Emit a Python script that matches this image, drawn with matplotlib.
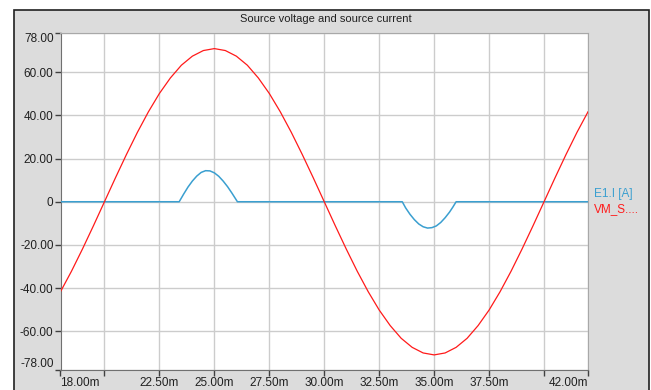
import matplotlib
matplotlib.use('Agg')
import matplotlib.pyplot as plt
from matplotlib.patches import Rectangle

# time in ms
t_v = [18.0, 18.5, 19.0, 19.5, 20.0, 20.5, 21.0, 21.5, 22.0, 22.5, 23.0, 23.5,
       24.0, 24.5, 25.0, 25.5, 26.0, 26.5, 27.0, 27.5, 28.0, 28.5, 29.0, 29.5,
       30.0, 30.5, 31.0, 31.5, 32.0, 32.5, 33.0, 33.5, 34.0, 34.5, 35.0, 35.5,
       36.0, 36.5, 37.0, 37.5, 38.0, 38.5, 39.0, 39.5, 40.0, 40.5, 41.0, 41.5, 42.0]
# source voltage VM_S
v_src = [-41.7, -32.2, -21.9, -11.1, 0.0, 11.1, 21.9, 32.2, 41.7, 50.2, 57.4, 63.3,
         67.5, 70.1, 71.0, 70.1, 67.5, 63.3, 57.4, 50.2, 41.7, 32.2, 21.9, 11.1,
         0.0, -11.1, -21.9, -32.2, -41.7, -50.2, -57.4, -63.3, -67.5, -70.1, -71.0, -70.1,
         -67.5, -63.3, -57.4, -50.2, -41.7, -32.2, -21.9, -11.1, 0.0, 11.1, 21.9, 32.2, 41.7]

# source current E1.I
t_i = [18.0, 23.4, 23.6, 23.8, 24.0, 24.2, 24.4, 24.6, 24.8, 25.0, 25.2, 25.4, 25.6, 25.8, 26.05,
       33.55, 33.7, 33.9, 34.1, 34.3, 34.5, 34.7, 34.9, 35.1, 35.3, 35.5, 35.7, 35.85, 36.0, 42.0]
i_src = [0.0, 0.0, 3.5, 6.8, 9.6, 11.9, 13.6, 14.4, 14.3, 13.4, 11.8, 9.6, 7.0, 4.0, 0.0,
         0.0, -2.8, -5.8, -8.3, -10.3, -11.6, -12.2, -12.0, -11.2, -9.6, -7.4, -4.8, -2.5, 0.0, 0.0]

x_ticks = [18, 20, 22.5, 25, 27.5, 30, 32.5, 35, 37.5, 40, 42]
x_labels = ['18.00m', '', '22.50m', '25.00m', '27.50m', '30.00m', '32.50m', '35.00m', '37.50m', '', '42.00m']
y_ticks = [-78, -60, -40, -20, 0, 20, 40, 60, 78]
y_labels = ['-78.00', '-60.00', '-40.00', '-20.00', '0', '20.00', '40.00', '60.00', '78.00']

plt.rcParams['font.family'] = ['Liberation Sans Narrow', 'Liberation Sans', 'DejaVu Sans']

fig = plt.figure(figsize=(6.51, 3.90), dpi=100)
fig.patch.set_facecolor('white')
# gray panel with dark border
fig.patches.append(Rectangle((14 / 651, -0.05), 635 / 651, 1.05 - 10 / 390,
                             transform=fig.transFigure, facecolor='#dcdcdc',
                             edgecolor='#202020', linewidth=1.2, zorder=-5))

ax = fig.add_axes([60.5 / 651, 20 / 390, (588 - 60.5) / 651, (370 - 33.5) / 390])
ax.set_zorder(2)
ax.set_facecolor('white')

ax.plot(t_i, i_src, color='#3a9fd0', lw=1.1, zorder=3)
ax.plot(t_v, v_src, color='#ff1a1a', lw=0.9, zorder=4)

ax.set_xlim(18, 42)
ax.set_ylim(-78, 78)
ax.set_xticks(x_ticks)
ax.set_xticklabels(x_labels)
ax.set_yticks(y_ticks)
ax.set_yticklabels(y_labels)
ax.grid(True, color='#cccccc', lw=1.0)
ax.set_axisbelow(True)

for s in ['top', 'right']:
    ax.spines[s].set_color('#a8a8a8')
for s in ['left', 'bottom']:
    ax.spines[s].set_color('#707070')
ax.tick_params(direction='out', length=4, width=1, color='#404040',
               labelsize=8.5, labelcolor='#202020', pad=1)

# end labels pulled inside like the original
ylab = ax.get_yticklabels()
ylab[0].set_va('bottom')
ylab[-1].set_va('top')
xlab = ax.get_xticklabels()
xlab[0].set_ha('left')
xlab[-1].set_ha('right')

fig.text(0.5, 1 - 19 / 390, 'Source voltage and source current', ha='center', va='center',
         fontsize=8, color='#202020')
fig.text(594 / 651, 1 - 194 / 390, 'E1.I [A]', color='#3a9fd0', fontsize=8.5, va='center')
fig.text(594 / 651, 1 - 209 / 390, 'VM_S....', color='#ff1a1a', fontsize=8.5, va='center')

fig.savefig('out.png', dpi=100)
